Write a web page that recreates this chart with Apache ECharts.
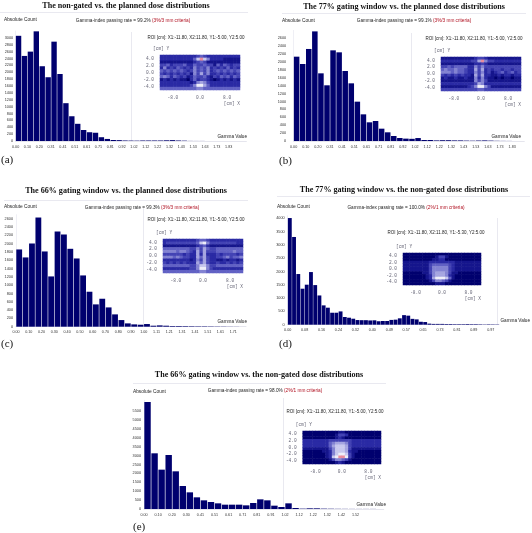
<!DOCTYPE html>
<html><head><meta charset="utf-8">
<style>html,body{margin:0;padding:0;background:#fff}#c{width:532px;height:533px}</style>
<script src="https://cdn.jsdelivr.net/npm/echarts@6/dist/echarts.min.js"></script>
</head><body><div id="c"></div>
<script>
// ---- values ----
const countsA=[3060,2475,2600,3190,2175,1855,2890,1950,1100,720,500,320,255,240,110,60,30,25,15,12,10,15,15,15,15,20,25,15,10,3,2,2,0,0,0,0,0,0,0];
const countsB=[2135,1950,2330,2775,1713,1410,2295,2245,1772,1460,996,675,473,506,312,220,127,76,60,55,75,25,25,15,20,20,15,15,10,8,12,15,10,5,3,2,0,0];
const countsC=[1862,1670,2006,2632,1814,1212,2295,2223,1878,1645,1236,843,538,674,465,297,160,80,56,48,64,24,32,24,16,16,14,12,10,10,8,6,5,3,2,0];
const countsD=[4012,3300,1906,1354,1505,1980,1490,1100,727,640,450,450,500,290,263,225,175,170,170,160,165,130,140,140,180,190,240,360,340,220,200,110,100,40,30,30,30,25,25,20,20,20,25,20,20,15,10,15,12,10];
const countsE=[6005,3125,2208,3030,2114,1290,935,655,486,393,318,243,243,243,205,337,542,486,187,112,318,56,20,37,37,20,15,10,8,6,5,5,5,0];
const xTicksA=['0.00','0.10','0.20','0.31','0.41','0.51','0.61','0.71','0.81','0.92','1.02','1.12','1.22','1.32','1.43','1.53','1.63','1.73','1.83'];
const xTicksB=['0.00','0.10','0.20','0.31','0.41','0.51','0.61','0.71','0.81','0.92','1.02','1.12','1.22','1.32','1.43','1.53','1.63','1.73','1.83'];
const xTicksC=['0.00','0.10','0.20','0.30','0.40','0.50','0.60','0.70','0.80','0.90','1.00','1.11','1.21','1.31','1.41','1.51','1.61','1.71'];
const xTicksD=['0.00','0.08','0.16','0.24','0.32','0.40','0.49','0.57','0.65','0.73','0.81','0.89','0.97'];
const xTicksE=['0.00','0.10','0.20','0.30','0.41','0.51','0.61','0.71','0.81','0.91','1.02','1.12','1.22','1.32','1.42','1.52'];
const yTicksA=[0,200,400,600,800,1000,1200,1400,1600,1800,2000,2200,2400,2600,2800,3000];
const yTicksB=[0,200,400,600,800,1000,1200,1400,1600,1800,2000,2200,2400,2600];
const yTicksC=[0,200,400,600,800,1000,1200,1400,1600,1800,2000,2200,2400,2600];
const yTicksD=[0,500,1000,1500,2000,2500,3000,3500,4000];
const yTicksE=[0,500,1000,1500,2000,2500,3000,3500,4000,4500,5000,5500];
// inset maps, intensity 0-9 per cell, top row first
const heatA=[
"222222222223432222222222",
"222222222247975222211111",
"111111111123431111111111",
"334233342243343314243233",
"252324323253435232324232",
"434343432353435234343434",
"323232323153635223232323",
"454243231243342132434243",
"121212110242332101212121",
"222222222125653222222222",
"222222222358864222222222",
"444444444445544444444444"];
const heatB=[
"111111111123321111111111",
"222222222336953322222222",
"111111111122321111111111",
"334344442253533333333333",
"454454432263623233233233",
"555454432253523123423423",
"323232322163622112122122",
"121121121152521101011011",
"111111111153531111111111",
"222222222236522222222222",
"111111112358853111111111",
"333333333334433333333333"];
const heatC=[
"222222222234432222222222",
"233333333347853333333322",
"111111111123421111111111",
"444444443353643344444444",
"555545543263633344444544",
"333333232262622232333323",
"555454332264632233453445",
"222222221253632211212212",
"323232322264632232232323",
"444444443357753344444444",
"222222223358853222222222",
"444444444445544444444444"];
const heatD=[
"000000000000000000000000",
"000000000013310000000000",
"000000000112200000000000",
"111111112222222211111111",
"111111113444443211111111",
"111111113555553211111111",
"111111113555553211111111",
"000000113566653110000000",
"000000012566652100000000",
"000000012688874100000000",
"000000001355431000000000",
"000000000011100000000000"];
const heatE=[
"000000000001100000000000",
"000000000013320000000000",
"000000000012100000000000",
"222222223333333222222222",
"222222224566653222222222",
"222222224677763222222222",
"111111113577763111111111",
"000000112577762110000000",
"000000012578873100000000",
"000000012789983100000000",
"000000001355431000000000",
"000000000012100000000000"];
const insetXTicks=[-8,0,8];
const insetYTicks=[-4,-2,0,2,4];
const heatRamp=['#00006e','#15158c','#2a2aa4','#4343b4','#6161c4','#8383d2','#a5a5e0','#c8c8ee','#eeeef9','#e98c9e'];

const panels=[
 {title:'The non-gated vs. the planned dose distributions',tx:126,ty:5.5,rule:[0,12,248],
  counts:countsA,xt:xTicksA,yt:yTicksA,step:2,L:15.6,W:230.8,base:141,H:110,max:3200,m:2.5,
  abs:[4,20],gam:[133,21,'Gamma-index passing rate = 99.2% ','(3%/3 mm criteria)'],roi:[196,37.5,'ROI [cm]: X1:-11.80, X2:11.80, Y1:-5.00, Y2:5.00'],
  heat:heatA,inset:[160,55,80,35],gv:[247,136.5],xy:147,letter:['(a)',1,160],v:131,vy:[32,141]},
 {title:'The 77% gating window vs. the planned dose distributions',tx:404,ty:6.5,rule:[282,13,526],
  counts:countsB,xt:xTicksB,yt:yTicksB,step:2,L:293.6,W:230.7,base:141,H:110.6,max:2800,m:7.5,
  abs:[282,21],gam:[414,21,'Gamma-index passing rate = 99.1% ','(3%/3 mm criteria)'],roi:[474,38.5,'ROI [cm]: X1:-11.80, X2:11.80, Y1:-5.00, Y2:5.00'],
  heat:heatB,inset:[441,57,80,34],gv:[521,137],xy:147,letter:['(b)',279,161],v:411,vy:[33,141]},
 {title:'The 66% gating window vs. the planned dose distributions',tx:126,ty:191,rule:[4,200,248],
  counts:countsC,xt:xTicksC,yt:yTicksC,step:2,L:16,W:230,base:326.7,H:112,max:2700,m:3,
  abs:[4,207],gam:[142,208,'Gamma-index passing rate = 99.3% ','(3%/3 mm criteria)'],roi:[196,220,'ROI [cm]: X1:-11.80, X2:11.80, Y1:-5.00, Y2:5.00'],
  heat:heatC,inset:[163,239,80,34],gv:[247,322],xy:332,letter:['(c)',1,344],v:143,vy:[208,327]},
 {title:'The 77% gating window vs. the non-gated dose distributions',tx:404,ty:190,rule:[277,196,530],
  counts:countsD,xt:xTicksD,yt:yTicksD,step:4,L:287.7,W:211.5,base:324.7,H:109,max:4100,m:3,
  abs:[277,207],gam:[406,208,'Gamma-index passing rate = 100.0% ','(2%/1 mm criteria)'],roi:[436,233,'ROI [cm]: X1:-11.80, X2:11.80, Y1:-5.30, Y2:5.00'],
  heat:heatD,inset:[403,253,78,32],gv:[530,321],xy:330,letter:['(d)',279,344],v:497,vy:[218,325]},
 {title:'The 66% gating window vs. the non-gated dose distributions',tx:259,ty:375,rule:[133,383,386],
  counts:countsE,xt:xTicksE,yt:yTicksE,step:2,L:144,W:239.7,base:509,H:108.7,max:6100,m:3,
  abs:[133,392],gam:[265,391,'Gamma-index passing rate = 98.0% ','(2%/1 mm criteria)'],roi:[335,412,'ROI [cm]: X1:-11.80, X2:11.80, Y1:-5.00, Y2:5.00'],
  heat:heatE,inset:[302.7,431,78.3,33],gv:[386,505],xy:515,letter:['(e)',133,527],v:283,vy:[398,509]}
];

const SANS='"Liberation Sans",Arial,sans-serif', SERIF='"Liberation Serif","Times New Roman",serif', MONO='"Liberation Mono","DejaVu Sans Mono",monospace';
const titles=[],graphics=[],grids=[],xAxes=[],yAxes=[],series=[],heatIdx=[];
function txt(text,x,y,size,align,family,color,weight,rich){
  titles.push({text,left:x,top:y,padding:0,textAlign:align,textVerticalAlign:'middle',
    textStyle:{fontSize:size,fontFamily:family,color,fontWeight:weight||'normal',rich:rich||{}}});
}
function line(x1,y1,x2,y2,c){graphics.push({type:'line',silent:true,shape:{x1,y1,x2,y2},style:{stroke:c||'#e9e9f0',lineWidth:1}});}

panels.forEach(p=>{
  txt(p.title,p.tx,p.ty,8.1,'center',SERIF,'#111','bold');
  line(p.rule[0],p.rule[1]+.5,p.rule[2],p.rule[1]+.5);
  line(p.v+.5,p.vy[0],p.v+.5,p.vy[1]);
  txt('Absolute Count',p.abs[0],p.abs[1],4.8,'left',SANS,'#222');
  txt('{k|'+p.gam[2]+'}{r|'+p.gam[3]+'}',p.gam[0],p.gam[1],4.7,'center',SANS,'#222','normal',
      {k:{fontSize:4.7,fontFamily:SANS,color:'#222'},r:{fontSize:4.7,fontFamily:SANS,color:'#b01020'}});
  txt(p.roi[2],p.roi[0],p.roi[1],4.5,'center',SANS,'#222');
  txt('Gamma Value',p.gv[0],p.gv[1],4.7,'right',SANS,'#222');
  txt(p.letter[0],p.letter[1],p.letter[2],11,'left',SERIF,'#111');

  // histogram
  const g=grids.length;
  grids.push({left:p.L,top:p.base-p.H,width:p.W,height:p.H});
  const n=p.counts.length, edges=[];
  for(let i=0;i<=n;i++) edges.push(i%p.step===0?(p.xt[i/p.step]||''):'');
  const xa=xAxes.length;
  xAxes.push({gridIndex:g,type:'category',data:p.counts.map((_,i)=>i),show:false});
  xAxes.push({gridIndex:g,type:'category',data:edges,boundaryGap:false,position:'bottom',
    axisLine:{show:true,lineStyle:{color:'#d4d4e0',width:.6}},axisTick:{show:false},splitLine:{show:false},
    axisLabel:{interval:0,hideOverlap:false,fontSize:3.7,fontFamily:SANS,color:'#333',margin:p.xy-p.base-2}});
  const ya=yAxes.length;
  yAxes.push({gridIndex:g,type:'value',min:0,max:p.max,splitLine:{show:false},axisTick:{show:false},
    axisLine:{show:true,lineStyle:{color:'#e4e4ee',width:.6}},
    axisLabel:{customValues:p.yt,formatter:v=>String(v),fontSize:3.8,fontFamily:SANS,color:'#333',margin:p.m}});
  series.push({type:'bar',xAxisIndex:xa,yAxisIndex:ya,data:p.counts,barCategoryGap:'9%',
    itemStyle:{color:'#00006e'},silent:true,animation:false});

  // inset map
  const [ix,iy,iw,ih]=p.inset, h=grids.length;
  grids.push({left:ix,top:iy,width:iw,height:ih});
  const rows=p.heat.length, cols=p.heat[0].length, cells=[];
  p.heat.forEach((r,ri)=>{for(let c=0;c<cols;c++)cells.push([c,rows-1-ri,+r[c]]);});
  const hx=xAxes.length;
  xAxes.push({gridIndex:h,type:'category',show:false,data:Array.from({length:cols},(_,i)=>i)});
  xAxes.push({gridIndex:h,type:'value',min:-11.8,max:11.8,position:'bottom',splitLine:{show:false},axisLine:{show:false},axisTick:{show:false},
    axisLabel:{customValues:insetXTicks,formatter:v=>v.toFixed(1),fontSize:4.5,fontFamily:MONO,color:'#667',margin:5}});
  const hy=yAxes.length;
  yAxes.push({gridIndex:h,type:'category',show:false,data:Array.from({length:rows},(_,i)=>i)});
  yAxes.push({gridIndex:h,type:'value',min:-5,max:5,position:'left',splitLine:{show:false},axisLine:{show:false},axisTick:{show:false},
    axisLabel:{customValues:insetYTicks,formatter:v=>v.toFixed(1),fontSize:4.5,fontFamily:MONO,color:'#667',margin:6}});
  heatIdx.push(series.length);
  series.push({type:'heatmap',xAxisIndex:hx,yAxisIndex:hy,data:cells,silent:true,animation:false,itemStyle:{borderWidth:0}});
  txt('[cm] Y',ix-7,iy-6,4.5,'left',MONO,'#667');
  txt('[cm] X',ix+iw,iy+ih+13.5,4.5,'right',MONO,'#667');
});

const chart=echarts.init(document.getElementById('c'));
chart.setOption({
  animation:false,backgroundColor:'#fff',title:titles,grid:grids,xAxis:xAxes,yAxis:yAxes,series,
  graphic:graphics,
  visualMap:{show:false,type:'continuous',seriesIndex:heatIdx,dimension:2,min:0,max:9,inRange:{color:heatRamp}}
});
</script></body></html>
